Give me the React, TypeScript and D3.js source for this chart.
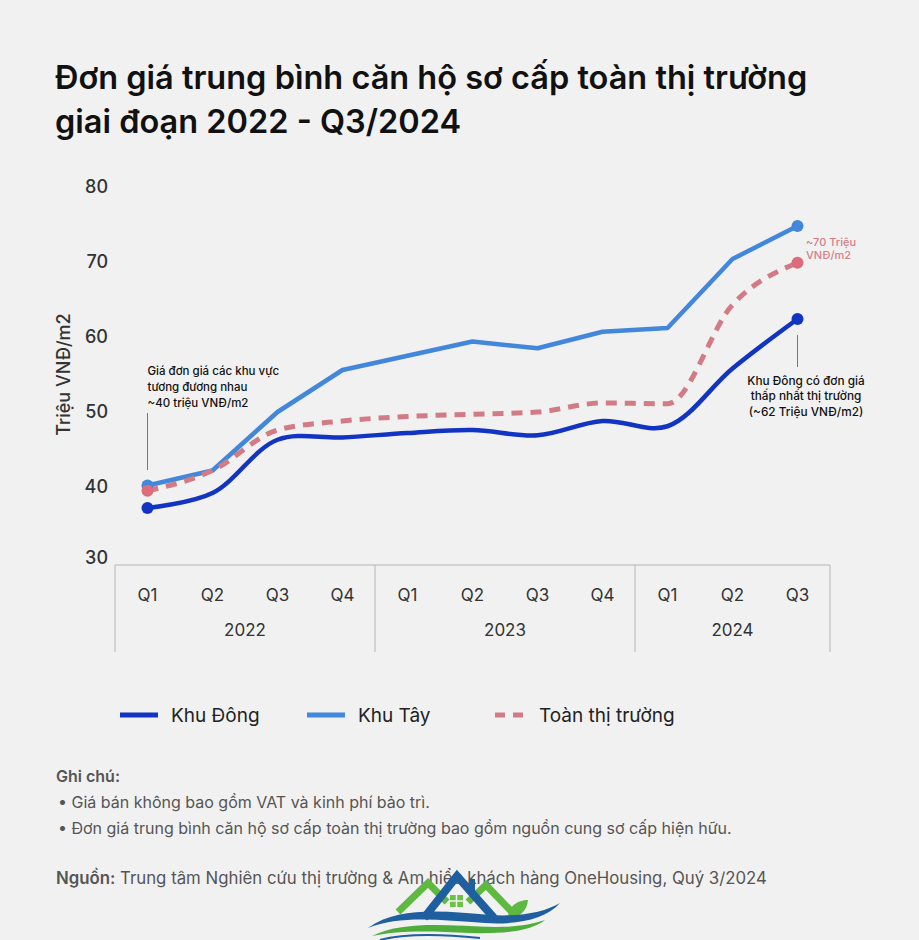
import * as d3 from 'd3';
import React, { useEffect, useRef } from 'react';

// categories
const quarters = ['Q1', 'Q2', 'Q3', 'Q4', 'Q1', 'Q2', 'Q3', 'Q4', 'Q1', 'Q2', 'Q3'];
const years = ['2022', '2023', '2024'];
const yearSpans = [4, 4, 3];
const yTicks = [30, 40, 50, 60, 70, 80];

// series values (triệu VNĐ/m2)
const khuDong = [37.2, 39.2, 46.3, 46.6, 47.2, 47.6, 46.9, 48.8, 48.1, 55.8, 62.4];
const khuTay = [40.2, 42.2, 50.0, 55.6, 57.5, 59.4, 58.5, 60.7, 61.2, 70.4, 74.8];
const toanThiTruong = [39.5, 42.2, 47.6, 48.8, 49.4, 49.7, 50.0, 51.2, 51.1, 64.3, 69.9];

const FONT = 'Inter, "Noto Sans", sans-serif';
const C_DONG = '#1234c2';
const C_TAY = '#4287db';
const C_TOAN = '#d27b85';
const C_TOAN_DOT = '#dc6c7a';

function App() {
  const ref = useRef(null);

  useEffect(() => {
    document.body.style.margin = '0';
    const svg = d3.select(ref.current);
    svg.selectAll('*').remove();

    const width = 919, height = 940;
    svg.append('rect').attr('width', width).attr('height', height).attr('fill', '#f1f1f1');

    // Title
    const title = svg.append('text')
      .attr('font-family', FONT).attr('font-size', 32.5).attr('font-weight', 600).attr('fill', '#111');
    title.append('tspan').attr('x', 55).attr('y', 89).text('Đơn giá trung bình căn hộ sơ cấp toàn thị trường');
    title.append('tspan').attr('x', 55).attr('y', 133).text('giai đoạn 2022 - Q3/2024');

    // Scales
    const x = d3.scaleBand().domain(d3.range(quarters.length).map(String)).range([115, 830]);
    const cx = (i) => x(String(i)) + x.bandwidth() / 2;
    const y = d3.scaleLinear().domain([30, 80]).range([562, 187]);

    // Y axis labels
    svg.append('g').selectAll('text').data(yTicks).enter().append('text')
      .attr('x', 108).attr('y', (d) => Math.min(y(d), 558))
      .attr('dy', '0.35em').attr('text-anchor', 'end')
      .attr('font-family', FONT).attr('font-size', 18).attr('font-weight', 500).attr('fill', '#333')
      .text((d) => d);

    svg.append('text')
      .attr('transform', 'translate(70,' + y(55) + ') rotate(-90)')
      .attr('text-anchor', 'middle')
      .attr('font-family', FONT).attr('font-size', 18).attr('font-weight', 500).attr('fill', '#333')
      .text('Triệu VNĐ/m2');

    // X axis box
    const axisTop = 565, axisBottom = 652;
    const gx = svg.append('g');
    gx.append('line').attr('x1', 115).attr('x2', 830).attr('y1', axisTop).attr('y2', axisTop)
      .attr('stroke', '#b5b5b5').attr('stroke-width', 1);
    let start = 0;
    const bounds = [0];
    yearSpans.forEach((s) => { start += s; bounds.push(start); });
    bounds.forEach((b) => {
      const bx = b === quarters.length ? 830 : x(String(b));
      gx.append('line').attr('x1', bx).attr('x2', bx).attr('y1', axisTop).attr('y2', axisBottom)
        .attr('stroke', '#b5b5b5').attr('stroke-width', 1);
    });
    gx.selectAll('text.q').data(quarters).enter().append('text')
      .attr('class', 'q')
      .attr('x', (d, i) => cx(i)).attr('y', 595).attr('dy', '0.35em')
      .attr('text-anchor', 'middle')
      .attr('font-family', FONT).attr('font-size', 17).attr('fill', '#333')
      .text((d) => d);
    gx.selectAll('text.yr').data(years).enter().append('text')
      .attr('class', 'yr')
      .attr('x', (d, i) => {
        const a = x(String(bounds[i]));
        const b = bounds[i + 1] === quarters.length ? 830 : x(String(bounds[i + 1]));
        return (a + b) / 2;
      })
      .attr('y', 630).attr('dy', '0.35em')
      .attr('text-anchor', 'middle')
      .attr('font-family', FONT).attr('font-size', 17).attr('fill', '#333')
      .text((d) => d);

    // Lines
    const lineSmooth = d3.line().x((d, i) => cx(i)).y((d) => y(d)).curve(d3.curveCatmullRom.alpha(0.5));
    const lineMono = d3.line().x((d, i) => cx(i)).y((d) => y(d)).curve(d3.curveMonotoneX);
    const lineStraight = d3.line().x((d, i) => cx(i)).y((d) => y(d));

    svg.append('path').attr('d', lineStraight(khuTay)).attr('fill', 'none')
      .attr('stroke', C_TAY).attr('stroke-width', 4.5).attr('stroke-linejoin', 'round');
    svg.append('path').attr('d', lineMono(toanThiTruong)).attr('fill', 'none')
      .attr('stroke', C_TOAN).attr('stroke-width', 5).attr('stroke-dasharray', '11 8');
    svg.append('path').attr('d', lineSmooth(khuDong)).attr('fill', 'none')
      .attr('stroke', C_DONG).attr('stroke-width', 4.5).attr('stroke-linejoin', 'round');

    // End dots
    const last = quarters.length - 1;
    [[khuTay, C_TAY], [toanThiTruong, C_TOAN_DOT], [khuDong, C_DONG]].forEach(([s, c]) => {
      [0, last].forEach((i) => {
        svg.append('circle').attr('cx', cx(i)).attr('cy', y(s[i])).attr('r', 6).attr('fill', c);
      });
    });

    // Annotations
    const ann = (lines, ax, ys, anchor, color, size) => {
      const t = svg.append('text').attr('font-family', FONT).attr('font-size', size)
        .attr('font-weight', 500).attr('fill', color).attr('text-anchor', anchor);
      lines.forEach((l, i) => t.append('tspan').attr('x', ax).attr('y', ys[i]).attr('dy', '0.35em').text(l));
    };
    svg.append('line').attr('x1', cx(0)).attr('x2', cx(0)).attr('y1', 413).attr('y2', 470)
      .attr('stroke', '#777').attr('stroke-width', 1);
    ann(['Giá đơn giá các khu vực', 'tương đương nhau', '~40 triệu VNĐ/m2'], cx(0), [371, 387, 403], 'start', '#111', 11.5);

    svg.append('line').attr('x1', cx(last)).attr('x2', cx(last)).attr('y1', 335).attr('y2', 367)
      .attr('stroke', '#777').attr('stroke-width', 1);
    ann(['Khu Đông có đơn giá', 'thấp nhất thị trường', '(~62 Triệu VNĐ/m2)'], 806, [381, 396, 412], 'middle', '#111', 11.8);

    ann(['~70 Triệu', 'VNĐ/m2'], 806, [242, 255], 'start', '#d57e89', 11);

    // Legend
    const lg = svg.append('g');
    const legendItems = [
      { label: 'Khu Đông', color: C_DONG, x0: 120, x1: 158, dash: null },
      { label: 'Khu Tây', color: C_TAY, x0: 307, x1: 345, dash: null },
      { label: 'Toàn thị trường', color: C_TOAN, x0: 495, x1: 526, dash: '10 8' },
    ];
    legendItems.forEach((it) => {
      lg.append('line').attr('x1', it.x0).attr('x2', it.x1).attr('y1', 715).attr('y2', 715)
        .attr('stroke', it.color).attr('stroke-width', 5).attr('stroke-dasharray', it.dash);
      lg.append('text').attr('x', it.x1 + 13).attr('y', 715).attr('dy', '0.35em')
        .attr('font-family', FONT).attr('font-size', 19).attr('fill', '#222').text(it.label);
    });

    // Notes
    const note = svg.append('g').attr('font-family', FONT).attr('font-size', 16).attr('fill', '#555');
    note.append('text').attr('x', 56).attr('y', 776).attr('dy', '0.35em').attr('font-weight', 600).text('Ghi chú:');
    note.append('text').attr('x', 58).attr('y', 802).attr('dy', '0.35em').text('• Giá bán không bao gồm VAT và kinh phí bảo trì.');
    note.append('text').attr('x', 58).attr('y', 828).attr('dy', '0.35em').text('• Đơn giá trung bình căn hộ sơ cấp toàn thị trường bao gồm nguồn cung sơ cấp hiện hữu.');
    const src = note.append('text').attr('x', 56).attr('y', 878).attr('dy', '0.35em').attr('font-size', 16.8);
    src.append('tspan').attr('font-weight', 600).text('Nguồn:');
    src.append('tspan').text(' Trung tâm Nghiên cứu thị trường & Am hiểu khách hàng OneHousing, Quý 3/2024');

    // Logo
    const logo = svg.append('g');
    logo.append('path').attr('d', 'M398,912 L428,883 L447,902').attr('fill', 'none')
      .attr('stroke', '#5fb840').attr('stroke-width', 7).attr('stroke-linejoin', 'miter');
    logo.append('path').attr('d', 'M468,902 L486,885 L512,912').attr('fill', 'none')
      .attr('stroke', '#5fb840').attr('stroke-width', 7).attr('stroke-linejoin', 'miter');
    logo.append('path').attr('d', 'M424,918 L457,876 L494,918').attr('fill', 'none')
      .attr('stroke', '#1f5fa0').attr('stroke-width', 8).attr('stroke-linejoin', 'miter');
    logo.append('rect').attr('x', 469).attr('y', 879).attr('width', 6).attr('height', 12).attr('fill', '#1f5fa0');
    logo.append('rect').attr('x', 450).attr('y', 895).attr('width', 13).attr('height', 12).attr('fill', '#6cc247');
    logo.append('line').attr('x1', 456.5).attr('x2', 456.5).attr('y1', 895).attr('y2', 907).attr('stroke', '#f1f1f1').attr('stroke-width', 1.5);
    logo.append('line').attr('x1', 450).attr('x2', 463).attr('y1', 901).attr('y2', 901).attr('stroke', '#f1f1f1').attr('stroke-width', 1.5);
    logo.append('path').attr('d', 'M508,918 C508,906 518,900 528,900 C527,912 518,918 508,918 Z').attr('fill', '#5fb840');
    logo.append('path').attr('d', 'M368,928 C400,905 450,912 490,915 C520,917 545,912 560,903 C545,920 515,925 485,923 C440,920 400,915 368,928 Z')
      .attr('fill', '#1f5fa0');
    logo.append('path').attr('d', 'M372,936 C405,920 450,926 495,927 C515,927 530,925 545,920 C530,932 500,934 470,933 C430,931 400,930 372,936 Z')
      .attr('fill', '#4fae3b');
    logo.append('path').attr('d', 'M380,940 C410,932 450,935 480,938').attr('fill', 'none')
      .attr('stroke', '#1f5fa0').attr('stroke-width', 2);
  }, []);

  return (
    <div style={{ position: 'absolute', left: 0, top: 0 }}>
      <svg ref={ref} width={919} height={940}></svg>
    </div>
  );
}

export default App;
